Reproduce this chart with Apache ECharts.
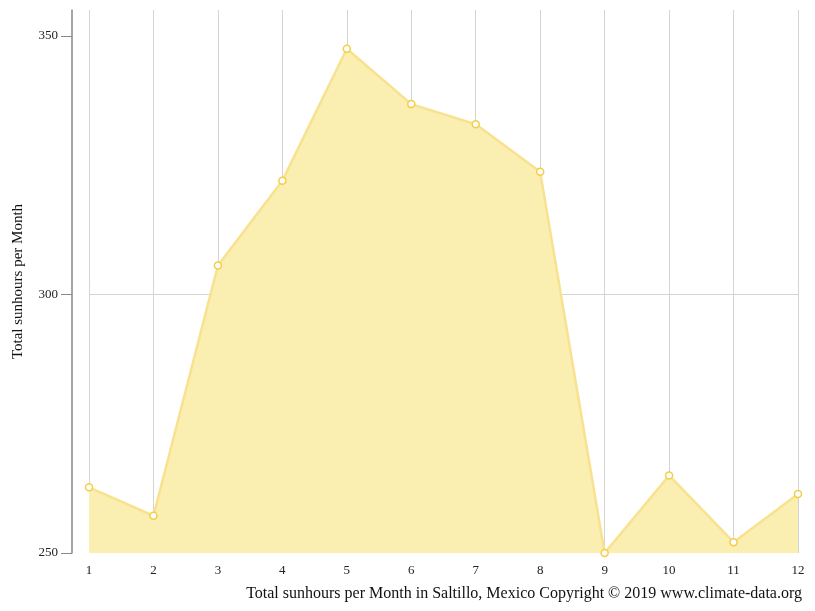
<!DOCTYPE html>
<html>
<head>
<meta charset="utf-8">
<script src="https://cdn.jsdelivr.net/npm/echarts@6/dist/echarts.min.js"></script>
<style>
    html, body { margin: 0; padding: 0; background: #fff; }
    #chart { width: 815px; height: 611px; }
</style>
</head>
<body>
<div id="chart"></div>
<script>
// months
const months = ['1', '2', '3', '4', '5', '6', '7', '8', '9', '10', '11', '12'];
// total sunhours per month
const sunhours = [262.7, 257.2, 305.6, 322, 347.5, 336.8, 332.9, 323.7, 250, 265, 252.1, 261.4];
const yTicks = [250, 300, 350];

const chart = echarts.init(document.getElementById('chart'));
chart.setOption({
    animation: false,
    textStyle: {
        fontFamily: 'Liberation Serif'
    },
    title: {
        text: 'Total sunhours per Month in Saltillo, Mexico Copyright © 2019 www.climate-data.org',
        right: 8,
        top: 581,
        textStyle: {
            fontFamily: 'Liberation Serif',
            fontSize: 16,
            fontWeight: 'normal',
            color: '#111'
        }
    },
    grid: {
        left: 89,
        right: 17,
        top: 10,
        bottom: 58,
        outerBoundsMode: 'none',
        containLabel: false
    },
    xAxis: {
        type: 'category',
        data: months,
        boundaryGap: false,
        axisLine: { show: false },
        axisTick: { show: false },
        axisLabel: {
            margin: 11,
            fontSize: 13,
            color: '#222',
            fontFamily: 'Liberation Serif'
        },
        splitLine: {
            show: true,
            lineStyle: { color: '#d4d4d4', width: 1 }
        }
    },
    yAxis: {
        type: 'value',
        min: 250,
        max: 355,
        interval: 50,
        offset: 17,
        name: 'Total sunhours per Month',
        nameLocation: 'middle',
        nameGap: 46,
        nameTextStyle: {
            fontSize: 15,
            color: '#111',
            fontFamily: 'Liberation Serif'
        },
        axisLine: {
            show: true,
            lineStyle: { color: '#888', width: 1.5 }
        },
        axisTick: {
            show: true,
            length: 11,
            customValues: yTicks,
            lineStyle: { color: '#888' }
        },
        axisLabel: {
            margin: 14,
            fontSize: 13,
            color: '#222',
            customValues: yTicks,
            fontFamily: 'Liberation Serif'
        },
        splitLine: {
            show: true,
            showMinLine: false,
            showMaxLine: false,
            lineStyle: { color: '#d4d4d4', width: 1 }
        }
    },
    series: [
        {
            type: 'line',
            data: sunhours,
            symbol: 'circle',
            symbolSize: 7,
            itemStyle: {
                color: '#fff',
                borderColor: '#f5cd45',
                borderWidth: 1.5
            },
            lineStyle: {
                color: '#f8e28f',
                width: 2.5
            },
            areaStyle: {
                color: '#faeeb0',
                opacity: 1,
                origin: 'start'
            }
        }
    ]
});
</script>
</body>
</html>
